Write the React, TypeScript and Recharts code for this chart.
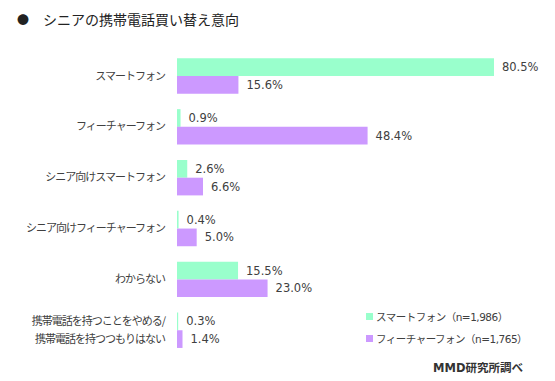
import React from 'react';
import { BarChart, Bar, XAxis, YAxis, LabelList } from 'recharts';

const categories = [
  'スマートフォン',
  'フィーチャーフォン',
  'シニア向けスマートフォン',
  'シニア向けフィーチャーフォン',
  'わからない',
  '携帯電話を持つことをやめる/\n携帯電話を持つつもりはない',
];
const smartphone = [80.5, 0.9, 2.6, 0.4, 15.5, 0.3];
const featurephone = [15.6, 48.4, 6.6, 5.0, 23.0, 1.4];
const seriesNames = ['スマートフォン（n=1,986）', 'フィーチャーフォン（n=1,765）'];

const data = categories.map((c, i) => ({ name: c, sp: smartphone[i], fp: featurephone[i] }));

const FONT = '"Noto Sans CJK JP", "Noto Sans", sans-serif';
const NUMFONT = '"DejaVu Sans", "Noto Sans CJK JP", sans-serif';
const TEXT = '#404040';
const GREEN = '#99ffcc';
const PURPLE = '#cc99ff';

const CatTick = (props: any) => {
  const { y, payload } = props;
  const lines = String(payload.value).split('\n');
  const lh = 17.6;
  const start = y - ((lines.length - 1) * lh) / 2;
  return (
    <g>
      {lines.map((l, i) => (
        <text key={i} x={165} y={start + i * lh} dy="0.35em" textAnchor="end" fontSize={11} letterSpacing={-1} fill={TEXT} fontFamily={FONT}>
          {l}
        </text>
      ))}
    </g>
  );
};

const fmt = (v: any) => Number(v).toFixed(1) + '%';

export default function App() {
  return (
    <div style={{ position: 'absolute', left: 0, top: 0, width: 555, height: 381, background: '#fff', fontFamily: FONT }}>
      <div style={{ position: 'absolute', left: 17, top: 9, fontSize: 14, color: '#222', whiteSpace: 'nowrap' }}>
        <span style={{ fontSize: 12, marginRight: 14 }}>●</span>シニアの携帯電話買い替え意向
      </div>
      <BarChart
        width={555}
        height={381}
        data={data}
        layout="vertical"
        margin={{ top: 50.3, right: 23.6, bottom: 25.6, left: 0 }}
        barGap={0}
        barCategoryGap={7.7}
      >
        <XAxis type="number" hide domain={[0, 90]} />
        <YAxis type="category" dataKey="name" width={177} axisLine={false} tickLine={false} tick={<CatTick />} interval={0} />
        <Bar dataKey="sp" fill={GREEN} barSize={17.7} isAnimationActive={false}>
          <LabelList dataKey="sp" position="right" offset={8} formatter={fmt} fill={TEXT} fontSize={11.5} fontFamily={NUMFONT} />
        </Bar>
        <Bar dataKey="fp" fill={PURPLE} barSize={17.7} isAnimationActive={false}>
          <LabelList dataKey="fp" position="right" offset={8} formatter={fmt} fill={TEXT} fontSize={11.5} fontFamily={NUMFONT} />
        </Bar>
      </BarChart>
      <div style={{ position: 'absolute', left: 366, top: 305, fontFamily: NUMFONT, fontSize: 10.5, letterSpacing: -0.5, color: TEXT }}>
        {[GREEN, PURPLE].map((c, i) => (
          <div key={i} style={{ display: 'flex', alignItems: 'center', height: 22, whiteSpace: 'nowrap' }}>
            <span style={{ display: 'inline-block', width: 7, height: 7, background: c, marginRight: 3 }} />
            <span>{seriesNames[i]}</span>
          </div>
        ))}
      </div>
      <div style={{ position: 'absolute', left: 433, top: 359, fontFamily: NUMFONT, fontSize: 11.5, fontWeight: 'bold', color: '#333', whiteSpace: 'nowrap' }}>
        MMD研究所調べ
      </div>
    </div>
  );
}
